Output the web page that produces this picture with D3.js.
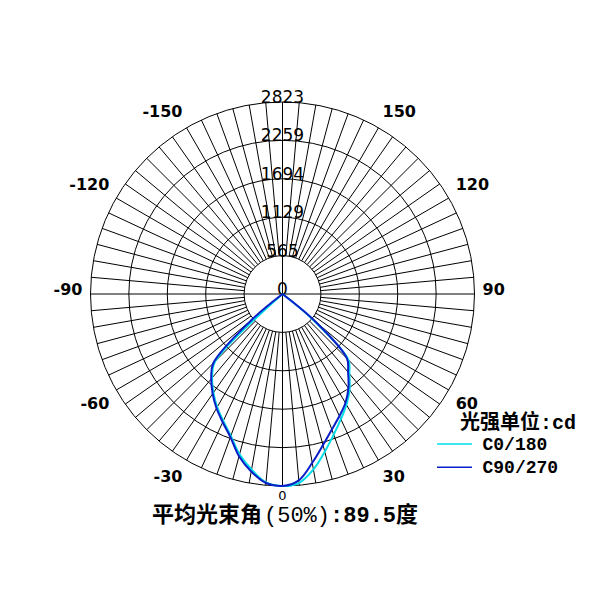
<!DOCTYPE html>
<html>
<head>
<meta charset="utf-8">
<script src="https://cdn.jsdelivr.net/npm/d3@7"></script>
<style>
  html, body { margin: 0; padding: 0; background: #fff; }
  svg { display: block; }
</style>
</head>
<body>
<svg id="chart" width="606" height="606"></svg>
<script>
// ---- data ----
const gammaAngles = [0, 5, 10, 15, 20, 25, 30, 35, 40, 45, 50, 55, 60, 65, 70, 75, 80, 85, 90];
// intensities (cd) for each half-plane at gammaAngles
const c0Values   = [2823, 2790, 2620, 2400, 2200, 2030, 1880, 1720, 1530, 1370, 560, 0, 0, 0, 0, 0, 0, 0, 0];
const c180Values = [2823, 2780, 2620, 2440, 2220, 2060, 1920, 1770, 1610, 1400, 0, 0, 0, 0, 0, 0, 0, 0, 0];
const c90Values  = [2823, 2750, 2520, 2300, 2120, 1980, 1850, 1690, 1500, 1340, 640, 0, 0, 0, 0, 0, 0, 0, 0];
const c270Values = [2823, 2790, 2650, 2470, 2240, 2080, 1940, 1790, 1630, 1440, 600, 0, 0, 0, 0, 0, 0, 0, 0];
const ringTicks = [0, 565, 1129, 1694, 2259, 2823];
const angleTicks = [-150, -120, -90, -60, -30, 0, 30, 60, 90, 120, 150];
const seriesNames = ["C0/180", "C90/270"];
const unitLabel = "光强单位";
const unitSuffix = ":cd";
const beamTitleCN = "平均光束角";
const beamTitlePct = "(50%)";
const beamTitleVal = ":89.5";
const beamTitleUnit = "度";

// ---- layout ----
const cx = 282.5, cy = 294, R = 192, innerR = R / 5;
const svg = d3.select("#chart");
const r = d3.scaleLinear().domain([0, 2823]).range([0, R]);
const rad = d => d * Math.PI / 180;
const px = (g, v) => cx + r(v) * Math.sin(rad(g));
const py = (g, v) => cy + r(v) * Math.cos(rad(g));

const grid = svg.append("g").attr("stroke", "#000").attr("stroke-width", 1).attr("fill", "none");
// radial lines every 5 degrees
d3.range(0, 360, 5).forEach(a => {
  const start = (a % 90 === 0) ? 0 : innerR;
  grid.append("line")
    .attr("x1", cx + start * Math.sin(rad(a))).attr("y1", cy + start * Math.cos(rad(a)))
    .attr("x2", cx + R * Math.sin(rad(a))).attr("y2", cy + R * Math.cos(rad(a)));
});
// rings
ringTicks.slice(1).forEach(v => {
  grid.append("circle").attr("cx", cx).attr("cy", cy).attr("r", r(v));
});

// ring labels
svg.append("g").selectAll("text").data(ringTicks).join("text")
  .attr("x", cx).attr("y", v => cy - r(v) + 1)
  .attr("text-anchor", "middle")
  .attr("font-family", "DejaVu Sans, Verdana, sans-serif")
  .attr("font-size", 17)
  .attr("fill", "#000")
  .text(d => d);

// angle labels
const angG = svg.append("g").attr("font-family", "DejaVu Sans, Verdana, sans-serif")
  .attr("fill", "#000").attr("font-weight", "bold");
angleTicks.forEach(a => {
  if (a === 0) {
    angG.append("text").attr("x", cx).attr("y", cy + R + 14)
      .attr("text-anchor", "middle").attr("font-size", 13).attr("font-weight", "normal").text("0");
    return;
  }
  const lr = R + 8;
  const x = cx + lr * Math.sin(rad(a));
  const y = cy + lr * Math.cos(rad(a));
  const abs = Math.abs(a);
  const yy = abs > 90 ? y - 4 : (abs === 90 ? y + 1 : y + 15);
  angG.append("text").attr("x", x).attr("y", yy)
    .attr("text-anchor", a > 0 ? "start" : "end")
    .attr("font-size", 16)
    .text(a < 0 ? "-" + abs : String(a));
});

// curves
function buildPoints(leftVals, rightVals) {
  const pts = [];
  for (let i = gammaAngles.length - 1; i >= 1; i--) pts.push([-gammaAngles[i], leftVals[i]]);
  for (let i = 0; i < gammaAngles.length; i++) pts.push([gammaAngles[i], rightVals[i]]);
  return pts;
}
const line = d3.line().x(d => px(d[0], d[1])).y(d => py(d[0], d[1])).curve(d3.curveCatmullRom.alpha(0.5));
const colors = ["#00dde8", "#0a1ec8"];
svg.append("path").attr("d", line(buildPoints(c180Values, c0Values)))
  .attr("fill", "none").attr("stroke", colors[0]).attr("stroke-width", 2).attr("stroke-linejoin", "round");
svg.append("path").attr("d", line(buildPoints(c270Values, c90Values)))
  .attr("fill", "none").attr("stroke", colors[1]).attr("stroke-width", 2).attr("stroke-linejoin", "round");

// legend
const leg = svg.append("g").attr("fill", "#000");
const t1 = leg.append("text").attr("x", 460).attr("y", 429)
  .attr("font-family", "Liberation Mono, 'Noto Sans CJK SC', monospace")
  .attr("font-size", 20).attr("font-weight", "bold");
t1.append("tspan").attr("font-family", "'Noto Sans CJK SC', sans-serif").text(unitLabel);
t1.append("tspan").text(unitSuffix);
seriesNames.forEach((n, i) => {
  const y = 444 + i * 23.3;
  leg.append("line").attr("x1", 437).attr("x2", 472).attr("y1", y).attr("y2", y)
    .attr("stroke", colors[i]).attr("stroke-width", 1.5);
  leg.append("text").attr("x", 482.5).attr("y", y + 5.5)
    .attr("font-family", "Liberation Mono, monospace").attr("font-size", 18).attr("font-weight", "bold")
    .text(n);
});

// bottom title
const tt = svg.append("text").attr("x", 152).attr("y", 522).attr("fill", "#000")
  .attr("font-family", "Liberation Mono, 'Noto Sans CJK SC', monospace")
  .attr("font-size", 22).attr("font-weight", "bold");
tt.append("tspan").attr("font-family", "'Noto Sans CJK SC', sans-serif").text(beamTitleCN);
tt.append("tspan").attr("dx", 2).attr("font-weight", "normal").text(beamTitlePct);
tt.append("tspan").text(beamTitleVal);
tt.append("tspan").attr("font-family", "'Noto Sans CJK SC', sans-serif").text(beamTitleUnit);
</script>
</body>
</html>
